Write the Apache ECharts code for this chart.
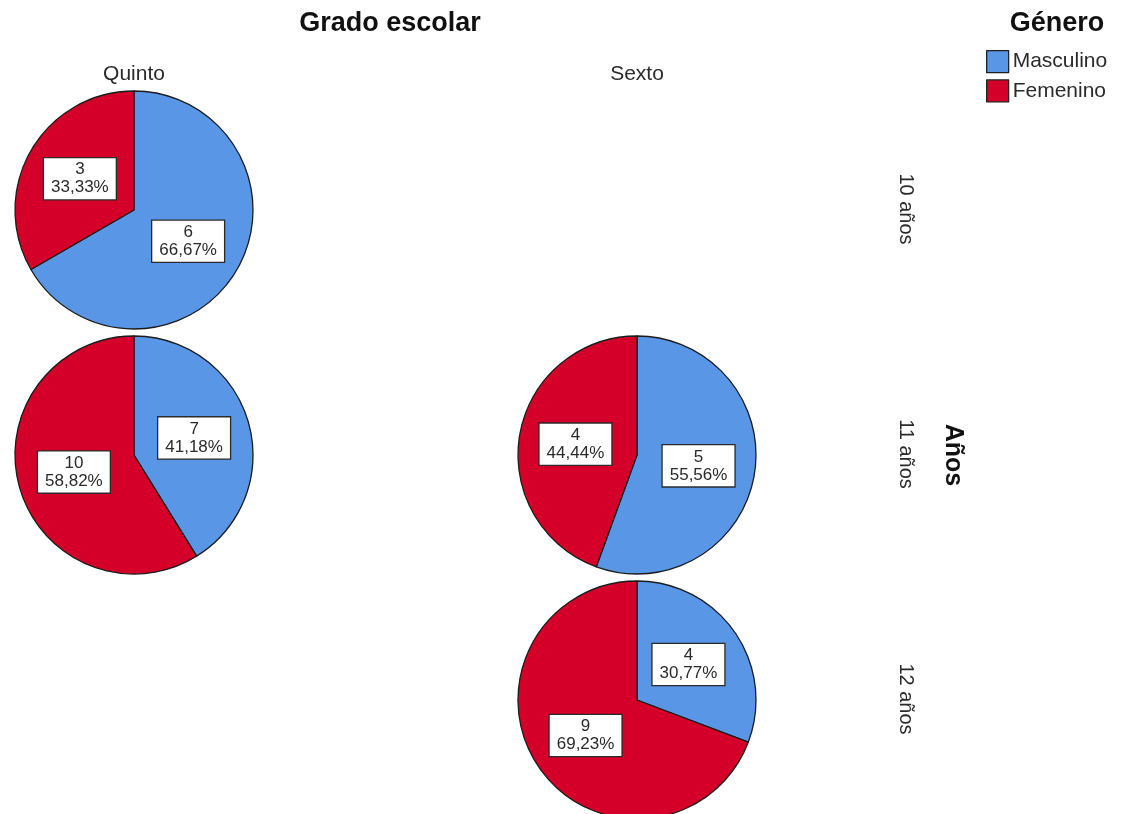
<!DOCTYPE html>
<html>
<head>
<meta charset="utf-8">
<title>Grado escolar por años y género</title>
<script src="https://cdn.jsdelivr.net/npm/echarts@6/dist/echarts.min.js"></script>
<style>
  html, body { margin: 0; padding: 0; background: #fff; }
  #chart { width: 1125px; height: 814px; }
</style>
</head>
<body>
<div id="chart"></div>
<script>
// Grade columns, age rows and gender categories
const grades = ['Quinto', 'Sexto'];
const ages = ['10 años', '11 años', '12 años'];
const genders = ['Masculino', 'Femenino'];

// Counts per age row (null = no pupils in that cell)
const quintoMasculino = [6, 7, null];
const quintoFemenino = [3, 10, null];
const sextoMasculino = [null, 5, 4];
const sextoFemenino = [null, 4, 9];

const counts = {
  Quinto: [quintoMasculino, quintoFemenino],
  Sexto: [sextoMasculino, sextoFemenino]
};

// Panel layout
const colX = [134, 637];
const rowY = [210, 455, 700];
const pieRadius = 119;
const font = '"Liberation Sans", Arial, sans-serif';

const series = [];
grades.forEach((g, ci) => {
  ages.forEach((a, ri) => {
    const m = counts[g][0][ri];
    const f = counts[g][1][ri];
    if (m == null && f == null) return;
    series.push({
      type: 'pie',
      name: g + ' ' + a,
      center: [colX[ci], rowY[ri]],
      radius: pieRadius,
      startAngle: 90,
      clockwise: true,
      silent: true,
      percentPrecision: 2,
      itemStyle: { borderColor: '#1c1c1c', borderWidth: 1.3 },
      label: {
        show: true,
        position: 'inside',
        formatter: p => p.value + '\n' + p.percent.toFixed(2).replace('.', ',') + '%',
        fontFamily: font,
        fontSize: 17,
        lineHeight: 18,
        color: '#2a2a2a',
        align: 'center',
        backgroundColor: '#fff',
        borderColor: '#2a2a2a',
        borderWidth: 1.3,
        padding: [3, 7, 2, 7]
      },
      labelLine: { show: false },
      emphasis: { disabled: true },
      data: [
        { name: genders[0], value: m },
        { name: genders[1], value: f }
      ]
    });
  });
});

const graphics = [];
grades.forEach((g, ci) => {
  graphics.push({
    type: 'text', x: colX[ci], y: 74,
    style: { text: g, font: '21px ' + font, fill: '#2a2a2a', align: 'center', verticalAlign: 'middle' }
  });
});
ages.forEach((a, ri) => {
  graphics.push({
    type: 'text', x: 906, y: rowY[ri] - 1, rotation: -Math.PI / 2,
    style: { text: a, font: '20px ' + font, fill: '#2a2a2a', align: 'center', verticalAlign: 'middle' }
  });
});
graphics.push({
  type: 'text', x: 953, y: 455, rotation: -Math.PI / 2,
  style: { text: 'Años', font: 'bold 25px ' + font, fill: '#111', align: 'center', verticalAlign: 'middle' }
});

const chart = echarts.init(document.getElementById('chart'), null, { renderer: 'canvas' });
chart.setOption({
  animation: false,
  backgroundColor: '#fff',
  color: ['#5A96E6', '#D50029'],
  title: [
    {
      text: 'Grado escolar', left: 385, top: 5, textAlign: 'center',
      textStyle: { fontFamily: font, fontSize: 27, fontWeight: 'bold', color: '#111' }
    },
    {
      text: 'Género', left: 1052, top: 5, textAlign: 'center',
      textStyle: { fontFamily: font, fontSize: 27, fontWeight: 'bold', color: '#111' }
    }
  ],
  legend: {
    data: genders,
    orient: 'vertical',
    left: 981,
    top: 45,
    itemWidth: 22,
    itemHeight: 22,
    itemGap: 6,
    icon: 'rect',
    selectedMode: false,
    itemStyle: { borderColor: '#222', borderWidth: 1.3 },
    textStyle: { fontFamily: font, fontSize: 21, color: '#2a2a2a', padding: [0, 0, 0, -1] }
  },
  graphic: graphics,
  series: series
});
</script>
</body>
</html>
